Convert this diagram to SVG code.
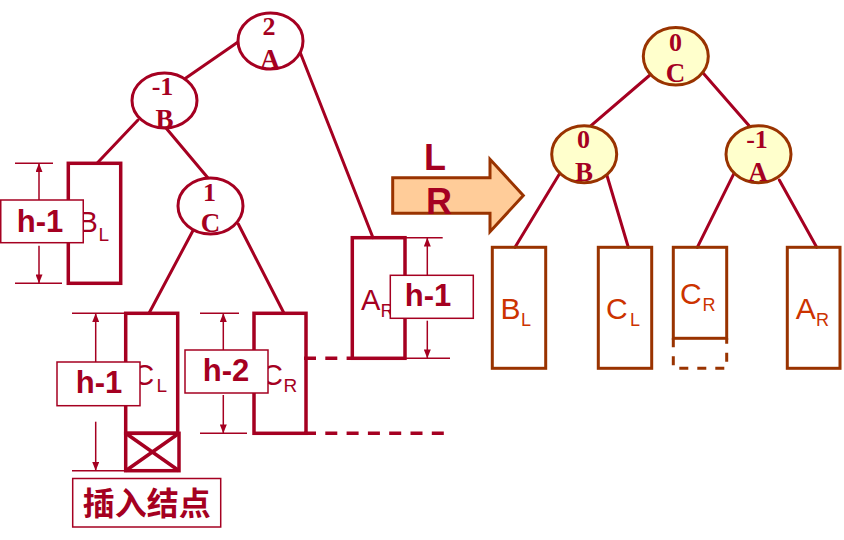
<svg xmlns="http://www.w3.org/2000/svg" width="844" height="540" viewBox="0 0 844 540">
<style>
.edge{stroke:#A50021;stroke-width:3;fill:none;stroke-linecap:round}
.lnode{fill:#FFFFFF;stroke:#A50021;stroke-width:3}
.rnode{fill:#FFFFCC;stroke:#993300;stroke-width:3}
.nt{font-family:"Liberation Serif","Times New Roman",serif;font-weight:bold;fill:#A50021;text-anchor:middle}
.d{font-size:26px}
.c{font-size:27px}
.lbox{fill:none;stroke:#A50021;stroke-width:3.5}
.rbox{fill:none;stroke:#993300;stroke-width:3}
.lt{font-family:"Liberation Sans",Arial,sans-serif;fill:#A50021}
.rt{font-family:"Liberation Sans",Arial,sans-serif;fill:#CC3300}
.dim{stroke:#A50021;stroke-width:1.5;fill:none}
.lab{fill:#FFFFFF;stroke:#A50021;stroke-width:1.5}
.labt{font-family:"Liberation Sans",Arial,sans-serif;font-weight:bold;font-size:31px;fill:#A50021;text-anchor:middle}
.dash{stroke:#A50021;stroke-width:3.5;fill:none;stroke-dasharray:12 9.3}
</style>
<defs>
<marker id="ah" viewBox="0 0 10 8" refX="10" refY="4" markerWidth="9" markerHeight="7" markerUnits="userSpaceOnUse" orient="auto">
<path d="M0,0 L10,4 L0,8 z" fill="#A50021"/>
</marker>
</defs>

<g id="connectors">
<line class="edge" x1="238" y1="42" x2="183" y2="80"/>
<line class="edge" x1="300" y1="52" x2="373" y2="237.7"/>
<line class="edge" x1="138" y1="120" x2="97" y2="163.3"/>
<line class="edge" x1="166" y1="128" x2="208" y2="178"/>
<line class="edge" x1="193.3" y1="230" x2="149" y2="313.3"/>
<line class="edge" x1="238.3" y1="224" x2="284" y2="313.3"/>
<line class="edge" x1="650" y1="75" x2="591" y2="125.7"/>
<line class="edge" x1="703.3" y1="73.3" x2="750" y2="126.7"/>
<line class="edge" x1="560" y1="173" x2="515" y2="247.3"/>
<line class="edge" x1="606" y1="172.3" x2="628.3" y2="247.3"/>
<line class="edge" x1="734" y1="173.3" x2="697.3" y2="247.3"/>
<line class="edge" x1="779.3" y1="180" x2="816.7" y2="247.3"/>
</g>

<g id="level-dashes">
<line class="dash" x1="304" y1="358.3" x2="352" y2="358.3"/>
<line class="dash" x1="304" y1="433.3" x2="445" y2="433.3"/>
</g>

<g id="node-A-left">
<ellipse class="lnode" cx="270.5" cy="41" rx="32.5" ry="28"/>
<text class="nt d" x="269" y="34.5">2</text>
<text class="nt c" x="270" y="67.5">A</text>
</g>
<g id="node-B-left">
<ellipse class="lnode" cx="164.5" cy="100.5" rx="32.5" ry="27.5"/>
<text class="nt d" x="162.5" y="94.5">-1</text>
<text class="nt c" x="164.5" y="127.5">B</text>
</g>
<g id="node-C-left">
<ellipse class="lnode" cx="210.5" cy="206" rx="32.5" ry="28"/>
<text class="nt d" x="209.5" y="200.5">1</text>
<text class="nt c" x="210.5" y="232">C</text>
</g>

<g id="subtree-BL-left">
<rect class="lbox" x="68.3" y="163.3" width="52.4" height="120"/>
<text class="lt" x="78.4" y="231.7" font-size="29">B</text>
<text class="lt" x="98.5" y="240.7" font-size="19">L</text>
</g>
<g id="subtree-CL-left">
<rect class="lbox" x="125.7" y="313.3" width="52" height="120"/>
<text class="lt" x="133.3" y="385" font-size="29">C</text>
<text class="lt" x="156.6" y="392.3" font-size="19">L</text>
</g>
<g id="inserted-node">
<rect class="lbox" x="125.7" y="433.3" width="53.3" height="37.4"/>
<path class="lbox" d="M125.7,433.3 L179,470.7 M179,433.3 L125.7,470.7" stroke-width="3"/>
</g>
<g id="subtree-CR-left">
<rect class="lbox" x="254" y="313.3" width="52" height="120"/>
<text class="lt" x="262" y="385" font-size="29">C</text>
<text class="lt" x="283.5" y="391.7" font-size="19">R</text>
</g>
<g id="subtree-AR-left">
<rect class="lbox" x="352.3" y="237.7" width="52.7" height="120.6"/>
<text class="lt" x="361" y="310" font-size="29">A</text>
<text class="lt" x="380.5" y="316.7" font-size="19">R</text>
</g>

<g id="dim-BL">
<line class="dim" x1="15" y1="163.3" x2="53" y2="163.3"/>
<line class="dim" x1="15" y1="283.3" x2="62" y2="283.3"/>
<line class="dim" x1="39" y1="200" x2="39" y2="163.3" marker-end="url(#ah)"/>
<line class="dim" x1="39" y1="245.7" x2="39" y2="283.3" marker-end="url(#ah)"/>
<rect class="lab" x="0.75" y="200" width="82.5" height="42.7"/>
<text class="labt" x="40" y="232">h-1</text>
</g>
<g id="dim-CL">
<line class="dim" x1="72" y1="313.3" x2="125.7" y2="313.3"/>
<line class="dim" x1="72" y1="470.7" x2="125" y2="470.7"/>
<line class="dim" x1="95.7" y1="362" x2="95.7" y2="313.3" marker-end="url(#ah)"/>
<line class="dim" x1="95.7" y1="421.7" x2="95.7" y2="470.7" marker-end="url(#ah)"/>
<rect class="lab" x="57" y="362" width="83" height="43.7"/>
<text class="labt" x="99" y="393.3">h-1</text>
</g>
<g id="dim-CR">
<line class="dim" x1="200" y1="313.3" x2="239" y2="313.3"/>
<line class="dim" x1="200" y1="433.3" x2="247" y2="433.3"/>
<line class="dim" x1="223.3" y1="350" x2="223.3" y2="313.3" marker-end="url(#ah)"/>
<line class="dim" x1="223.3" y1="395" x2="223.3" y2="433.3" marker-end="url(#ah)"/>
<rect class="lab" x="185" y="350" width="83" height="43"/>
<text class="labt" x="226" y="380.5">h-2</text>
</g>
<g id="dim-AR">
<line class="dim" x1="405" y1="237.7" x2="442.7" y2="237.7"/>
<line class="dim" x1="405" y1="358.3" x2="450" y2="358.3"/>
<line class="dim" x1="427.3" y1="275.3" x2="427.3" y2="237.7" marker-end="url(#ah)"/>
<line class="dim" x1="427.3" y1="320.7" x2="427.3" y2="358.3" marker-end="url(#ah)"/>
<rect class="lab" x="390.3" y="275.3" width="83" height="43"/>
<text class="labt" x="428" y="305.5">h-1</text>
</g>

<g id="insert-label">
<rect class="lab" x="72.7" y="478.5" width="148" height="48.5"/>
<text x="146.7" y="515" font-family="'Noto Sans CJK SC','Noto Sans CJK TC',sans-serif" font-weight="bold" font-size="32" fill="#A50021" text-anchor="middle">插入结点</text>
</g>

<g id="rotation-arrow">
<polygon points="392.7,177.7 490,177.7 490,159.3 523.3,195.5 490,231.7 490,213.3 392.7,213.3" fill="#FFCC99" stroke="#993300" stroke-width="3" stroke-linejoin="miter"/>
<text x="435" y="170" font-family="'Liberation Sans',Arial,sans-serif" font-weight="bold" font-size="36" fill="#A50021" text-anchor="middle">L</text>
<text x="439" y="213.5" font-family="'Liberation Sans',Arial,sans-serif" font-weight="bold" font-size="36" fill="#A50021" text-anchor="middle">R</text>
</g>

<g id="node-C-right">
<ellipse class="rnode" cx="675.8" cy="56.3" rx="32.5" ry="28.7"/>
<text class="nt d" x="675.5" y="50.5">0</text>
<text class="nt c" x="675.5" y="82">C</text>
</g>
<g id="node-B-right">
<ellipse class="rnode" cx="584.2" cy="154.2" rx="32.5" ry="28.5"/>
<text class="nt d" x="583.5" y="147.5">0</text>
<text class="nt c" x="584" y="180.5">B</text>
</g>
<g id="node-A-right">
<ellipse class="rnode" cx="758.5" cy="154.2" rx="32.5" ry="28.5"/>
<text class="nt d" x="757" y="147.5">-1</text>
<text class="nt c" x="758" y="180.5">A</text>
</g>

<g id="subtree-BL-right">
<rect class="rbox" x="492.3" y="247.3" width="53.4" height="121"/>
<text class="rt" x="500.6" y="319" font-size="30">B</text>
<text class="rt" x="521" y="326" font-size="18">L</text>
</g>
<g id="subtree-CL-right">
<rect class="rbox" x="598.3" y="247.3" width="53.4" height="121"/>
<text class="rt" x="606" y="319" font-size="30">C</text>
<text class="rt" x="630" y="326" font-size="18">L</text>
</g>
<g id="subtree-CR-right">
<rect class="rbox" x="673.3" y="247.3" width="53.4" height="91"/>
<path class="rbox" d="M673.3,338.3 V368.3 H726.7 V338.3" stroke-dasharray="9 9"/>
<text class="rt" x="680" y="304" font-size="30">C</text>
<text class="rt" x="702.5" y="311" font-size="18">R</text>
</g>
<g id="subtree-AR-right">
<rect class="rbox" x="787.3" y="247.3" width="52.7" height="121"/>
<text class="rt" x="795.7" y="319" font-size="30">A</text>
<text class="rt" x="816" y="326" font-size="18">R</text>
</g>
</svg>
